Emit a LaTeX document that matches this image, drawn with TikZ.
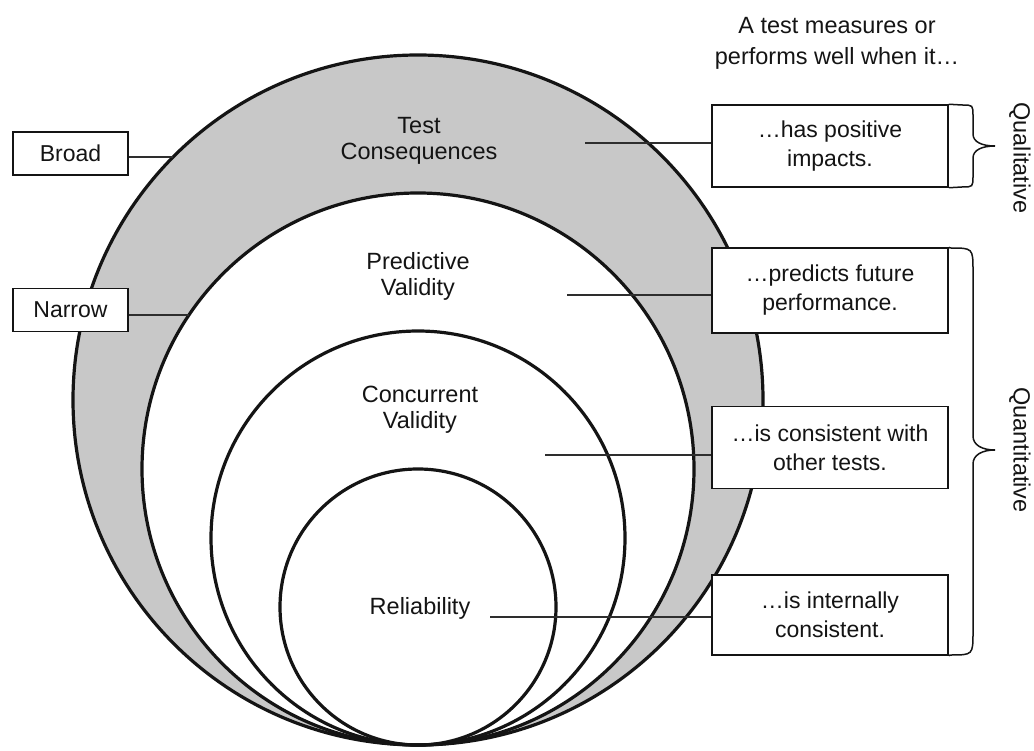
\documentclass[tikz,border=0pt]{standalone}
\usepackage{fontspec}
\setmainfont{Liberation Sans}
\definecolor{ink}{HTML}{141414}
\definecolor{linec}{HTML}{2E2E2E}
\definecolor{band}{HTML}{C8C8C8}
\begin{document}
\begin{tikzpicture}[x=1pt,y=-1pt,
  lbl/.style={font=\fontsize{23.5}{26}\selectfont, text=ink, align=center, inner sep=0pt},
  box/.style={draw=ink, line width=1.5pt, fill=white, minimum width=236pt, minimum height=82pt,
    font=\fontsize{23}{29}\selectfont, text=ink, align=center, inner sep=0pt},
  lbox/.style={draw=ink, line width=1.5pt, fill=white, minimum width=115pt, minimum height=43pt,
    font=\fontsize{23}{26}\selectfont, text=ink, inner sep=0pt},
  ring/.style={draw=ink, line width=3.2pt},
  conn/.style={draw=linec, line width=1.7pt},
  bracestyle/.style={draw=ink, line width=1.5pt}]
\useasboundingbox (0,0) rectangle (1034,751);
% circles
\fill[band] (418,400) circle[radius=345pt];
\fill[white] (418,469) circle[radius=276pt];
\draw[ring] (418,400) circle[radius=345pt];
\draw[ring] (418,469) circle[radius=276pt];
\draw[ring] (418,538) circle[radius=207pt];
\draw[ring] (418,607) circle[radius=138pt];
% circle labels
\node[lbl] (tc) at (419,141) {Test\\Consequences};
\node[lbl] (pv) at (418,276) {Predictive\\Validity};
\node[lbl] (cv) at (420,410) {Concurrent\\Validity};
\node[lbl] (rel) at (420,608) {Reliability};
% header
\node[lbl, font=\fontsize{23.5}{31}\selectfont] (head) at (837,43) {A test measures or\\performs well when it\ldots};
% right boxes
\node[box] (b1) at (830,146) {\ldots has positive\\impacts.};
\node[box, minimum height=85pt] (b2) at (830,290.5) {\ldots predicts future\\performance.};
\node[box] (b3) at (830,447.5) {\ldots is consistent with\\other tests.};
\node[box, minimum height=80pt] (b4) at (830,615) {\ldots is internally\\consistent.};
% left boxes
\node[lbox] (broad) at (70.5,153.5) {Broad};
\node[lbox] (narrow) at (70.5,310) {Narrow};
% connector end points
\coordinate (c1) at (585,143);
\coordinate (c2) at (567,295);
\coordinate (c3) at (545,455);
\coordinate (c4) at (490,617);
\coordinate (cb) at (173,157);
\coordinate (cn) at (189,315);
\draw[conn] (c1) -- (c1 -| b1.west);
\draw[conn] (c2) -- (c2 -| b2.west);
\draw[conn] (c3) -- (c3 -| b3.west);
\draw[conn] (c4) -- (c4 -| b4.west);
\draw[conn] (cb) -- (cb -| broad.east);
\draw[conn] (cn) -- (cn -| narrow.east);
% braces
\draw[bracestyle] (b1.north east) -- (962,105) .. controls (973,105) .. (973,116) -- (973,134)
  .. controls (973,142) and (982,146) .. (995,146)
  .. controls (982,146) and (973,150) .. (973,158) -- (973,176)
  .. controls (973,187) .. (962,187) -- (b1.south east);
\draw[bracestyle] (b2.north east) -- (950,248) .. controls (973,248) .. (973,271) -- (973,436)
  .. controls (973,445) and (982,450) .. (995,450)
  .. controls (982,450) and (973,455) .. (973,464) -- (973,632)
  .. controls (973,655) .. (950,655) -- (b4.south east);
\node[lbl, rotate=-90] (ql) at (1020,158) {Qualitative};
\node[lbl, rotate=-90] (qn) at (1020,450) {Quantitative};
\end{tikzpicture}
\end{document}
